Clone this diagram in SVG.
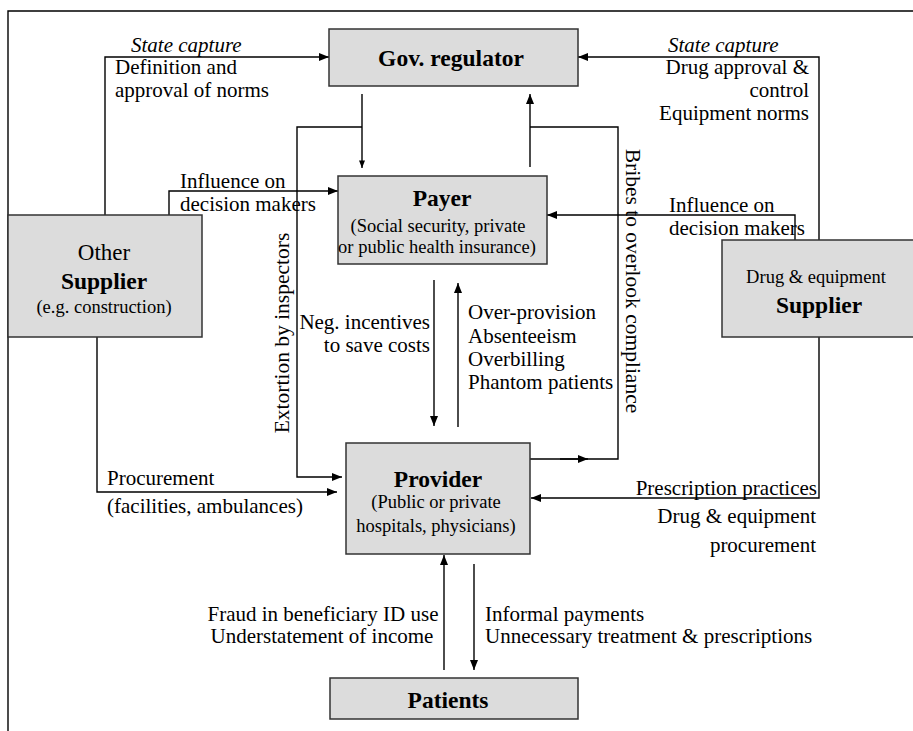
<svg xmlns="http://www.w3.org/2000/svg" width="913" height="731" viewBox="0 0 913 731" font-family="Liberation Serif, DejaVu Serif, serif">
<defs>
<marker id="ah" viewBox="0 0 10 8" refX="10" refY="4" markerWidth="10" markerHeight="8" markerUnits="userSpaceOnUse" orient="auto">
<path d="M0,0 L10,4 L0,8 Z" fill="#000"/>
</marker>
<marker id="ahs" viewBox="0 0 10 8" refX="10" refY="4" markerWidth="8" markerHeight="6" markerUnits="userSpaceOnUse" orient="auto">
<path d="M0,0 L10,4 L0,8 Z" fill="#000"/>
</marker>
</defs>
<style>
text{font-family:'Liberation Serif','DejaVu Serif',serif;fill:#000}
.lbl{font-size:21px}
.it{font-style:italic}
.sub{font-size:18.5px}
.b{font-weight:bold}
.box{fill:#dcdcdc;stroke:#333;stroke-width:1.5}
.c{fill:none;stroke:#000;stroke-width:1.4}
.mid{text-anchor:middle}
.end{text-anchor:end}
</style>
<rect width="913" height="731" fill="#fff"/>
<g id="frame">
<path class="c" d="M8,731 L8,11 L913,11"/>
</g>
<g id="connectors">
<path class="c" d="M105,215 L105,57 L329,57" marker-end="url(#ah)"/>
<path class="c" d="M169,215 L169,191 L338,191" marker-end="url(#ah)"/>
<path class="c" d="M97,337 L97,492 L337,492" marker-end="url(#ah)"/>
<path class="c" d="M362,94 L362,168" marker-end="url(#ahs)"/>
<path class="c" d="M362,127 L297,127 L297,477 L342,477" marker-end="url(#ah)"/>
<path class="c" d="M530,167 L530,94" marker-end="url(#ah)"/>
<path class="c" d="M530,127 L618,127 L618,459 L530,459"/>
<path class="c" d="M560,459 L588,459" marker-end="url(#ah)"/>
<path class="c" d="M819,240 L819,57 L578,57" marker-end="url(#ah)"/>
<path class="c" d="M795,240 L795,215 L547,215" marker-end="url(#ah)"/>
<path class="c" d="M819,337 L819,498 L531,498" marker-end="url(#ah)"/>
<path class="c" d="M434,280 L434,426" marker-end="url(#ah)"/>
<path class="c" d="M458,427 L458,283" marker-end="url(#ah)"/>
<path class="c" d="M444,670 L444,555" marker-end="url(#ah)"/>
<path class="c" d="M474,564 L474,670" marker-end="url(#ah)"/>
</g>
<g id="labels">
<text class="lbl it" x="131" y="52">State capture</text>
<text class="lbl" x="115" y="74">Definition and</text>
<text class="lbl" x="115" y="97">approval of norms</text>
<text class="lbl it" x="668" y="52">State capture</text>
<text class="lbl end" x="809" y="74">Drug approval &amp;</text>
<text class="lbl end" x="809" y="97">control</text>
<text class="lbl end" x="809" y="120">Equipment norms</text>
<text class="lbl" x="180" y="188">Influence on</text>
<text class="lbl" x="180" y="211">decision makers</text>
<text class="lbl" x="669" y="212">Influence on</text>
<text class="lbl" x="669" y="235">decision makers</text>
<text class="lbl end" x="430" y="329">Neg. incentives</text>
<text class="lbl end" x="430" y="352">to save costs</text>
<text class="lbl" x="468" y="319">Over-provision</text>
<text class="lbl" x="468" y="343">Absenteeism</text>
<text class="lbl" x="468" y="366">Overbilling</text>
<text class="lbl" x="468" y="389">Phantom patients</text>
<text class="lbl mid" style="font-size:21.5px" transform="translate(289,333) rotate(-90)">Extortion by inspectors</text>
<text class="lbl mid" style="font-size:21.5px" transform="translate(626,281) rotate(90)">Bribes to overlook compliance</text>
<text class="lbl" x="107" y="485">Procurement</text>
<text class="lbl" x="107" y="513">(facilities, ambulances)</text>
<text class="lbl end" x="817" y="495">Prescription practices</text>
<text class="lbl end" x="816" y="523">Drug &amp; equipment</text>
<text class="lbl end" x="816" y="552">procurement</text>
<text class="lbl mid" x="323" y="621">Fraud in beneficiary ID use</text>
<text class="lbl mid" x="322" y="643">Understatement of income</text>
<text class="lbl" x="485" y="621">Informal payments</text>
<text class="lbl" x="485" y="643">Unnecessary treatment &amp; prescriptions</text>
</g>
<g id="gov-regulator">
<rect class="box" x="329" y="29" width="249" height="57"/>
<text class="b mid" style="font-size:23.5px" x="451" y="66">Gov. regulator</text>
</g>
<g id="payer">
<rect class="box" x="338" y="176" width="209" height="88"/>
<text class="b mid" style="font-size:23.5px" x="442" y="206">Payer</text>
<text class="sub mid" x="438" y="232">(Social security, private</text>
<text class="sub mid" x="437" y="253">or public health insurance)</text>
</g>
<g id="other-supplier">
<rect class="box" x="8" y="215" width="194" height="122"/>
<text class="mid" style="font-size:23px" x="104" y="260">Other</text>
<text class="b mid" style="font-size:23.5px" x="104" y="289">Supplier</text>
<text class="sub mid" x="104" y="313">(e.g. construction)</text>
</g>
<g id="drug-supplier">
<rect class="box" x="722" y="240" width="200" height="97"/>
<text class="sub mid" x="816" y="283">Drug &amp; equipment</text>
<text class="b mid" style="font-size:23.5px" x="819" y="313">Supplier</text>
</g>
<g id="provider">
<rect class="box" x="346" y="443" width="184" height="111"/>
<text class="b mid" style="font-size:23.5px" x="438" y="487">Provider</text>
<text class="sub mid" x="436" y="508">(Public or private</text>
<text class="sub mid" x="436" y="532">hospitals, physicians)</text>
</g>
<g id="patients">
<rect class="box" x="330" y="678" width="248" height="41"/>
<text class="b mid" style="font-size:23.5px" x="448" y="708">Patients</text>
</g>
</svg>
